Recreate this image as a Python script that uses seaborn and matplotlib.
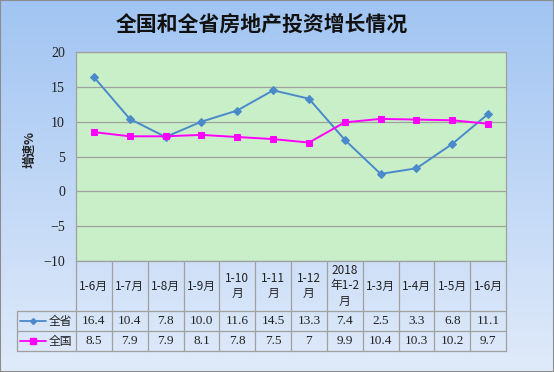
import numpy as np
import pandas as pd
import matplotlib.pyplot as plt
import matplotlib.transforms as mtransforms
import seaborn as sns

# 数据
months = ['1-6月', '1-7月', '1-8月', '1-9月', '1-10\n月', '1-11\n月', '1-12\n月',
          '2018\n年1-2\n月', '1-3月', '1-4月', '1-5月', '1-6月']
province = [16.4, 10.4, 7.8, 10.0, 11.6, 14.5, 13.3, 7.4, 2.5, 3.3, 6.8, 11.1]
national = [8.5, 7.9, 7.9, 8.1, 7.8, 7.5, 7, 9.9, 10.4, 10.3, 10.2, 9.7]
series_names = ['全省', '全国']
colors = {'全省': '#4a8acb', '全国': '#ff00ff'}
markers = {'全省': 'D', '全国': 's'}
msizes = {'全省': 4, '全国': 5}

sns.set_style('white')
plt.rcParams['font.family'] = ['Noto Sans CJK SC', 'DejaVu Sans']
serif = ['Liberation Serif', 'Noto Sans CJK SC']

W, H = 554, 372
fig = plt.figure(figsize=(W / 100, H / 100), dpi=100)

# 渐变背景
bg = fig.add_axes([0, 0, 1, 1], zorder=-10)
grad = np.linspace(0, 1, 256).reshape(-1, 1)
top = np.array([0.63, 0.77, 0.95])
bot = np.array([0.88, 0.92, 0.98])
img = top + (bot - top) * grad[..., None]
bg.imshow(np.repeat(img, 2, axis=1), aspect='auto', extent=[0, 1, 0, 1])
bg.set_axis_off()
fig.patches.append(plt.Rectangle((0, 0), 1, 1, transform=fig.transFigure,
                                 fill=False, edgecolor='#8c8c8c', lw=1.5))

x0, x1, y0, y1 = 76, 506, 52, 261
ax = fig.add_axes([x0 / W, 1 - y1 / H, (x1 - x0) / W, (y1 - y0) / H])
ax.set_facecolor('#c8efc8')

df = pd.DataFrame({'pos': list(range(len(months))) * 2,
                   'value': province + national,
                   'series': ['全省'] * len(months) + ['全国'] * len(months)})
for name in series_names:
    sub = df[df['series'] == name]
    sns.lineplot(data=sub, x='pos', y='value', ax=ax, color=colors[name],
                 marker=markers[name], markersize=msizes[name],
                 markeredgecolor=colors[name], lw=1.4, legend=False, zorder=3)

ax.set_xlim(-0.5, len(months) - 0.5)
ax.set_ylim(-10, 20)
ax.set_yticks(range(-10, 21, 5))
ax.set_yticklabels([str(v).replace('-', '\u2212') for v in range(-10, 21, 5)])
for lab in ax.get_yticklabels():
    lab.set_fontfamily(serif)
    lab.set_fontsize(10)
    lab.set_color('#222222')
ax.set_xticks([])
ax.set_xlabel('')
ax.set_ylabel('')
ax.grid(axis='y', color='#a0a0a0', lw=0.9)
ax.tick_params(axis='y', length=0, pad=8)
for s in ax.spines.values():
    s.set_color('#a0a0a0')
    s.set_linewidth(0.9)

fig.text(30 / W, 1 - 150 / H, '增速%', rotation=90, ha='center', va='center',
         fontsize=9, fontweight='bold', color='#222222')
fig.text(262 / W, 1 - 24 / H, '全国和全省房地产投资增长情况', ha='center',
         va='center', fontsize=15, fontweight='bold', color='#111111')

# 数据表
trans = mtransforms.blended_transform_factory(ax.transData, fig.transFigure)
ftr = fig.transFigure
line_c = '#a0a0a0'
row_y = [261, 311, 331, 351]
for y in row_y[1:]:
    fig.add_artist(plt.Line2D([17 / W, x1 / W], [1 - y / H] * 2,
                              transform=ftr, color=line_c, lw=0.9))
for b in np.arange(-0.5, len(months), 1):
    fig.add_artist(plt.Line2D([b, b], [1 - 261 / H, 1 - 351 / H],
                              transform=trans, color=line_c, lw=0.9))
fig.add_artist(plt.Line2D([17 / W] * 2, [1 - 311 / H, 1 - 351 / H],
                          transform=ftr, color=line_c, lw=0.9))

cell_font = dict(fontsize=8.5, color='#222222', ha='center', va='center',
                 linespacing=1.2)
num_font = dict(cell_font, fontsize=9.5, family=serif)
for i, m in enumerate(months):
    ax.text(i, 1 - 286 / H, m, transform=trans, **cell_font)
    ax.text(i, 1 - 321 / H, str(province[i]), transform=trans, **num_font)
    ax.text(i, 1 - 341 / H, str(national[i]), transform=trans, **num_font)

for name, y in zip(series_names, [321, 341]):
    fig.add_artist(plt.Line2D([20 / W, 46 / W], [1 - y / H] * 2, transform=ftr,
                              color=colors[name], lw=1.3))
    fig.add_artist(plt.Line2D([33 / W], [1 - y / H], transform=ftr,
                              color=colors[name], marker=markers[name],
                              markersize=3 if name == '全省' else 5))
    fig.text(60 / W, 1 - y / H, name, **cell_font)

fig.savefig('out.png', dpi=100)
